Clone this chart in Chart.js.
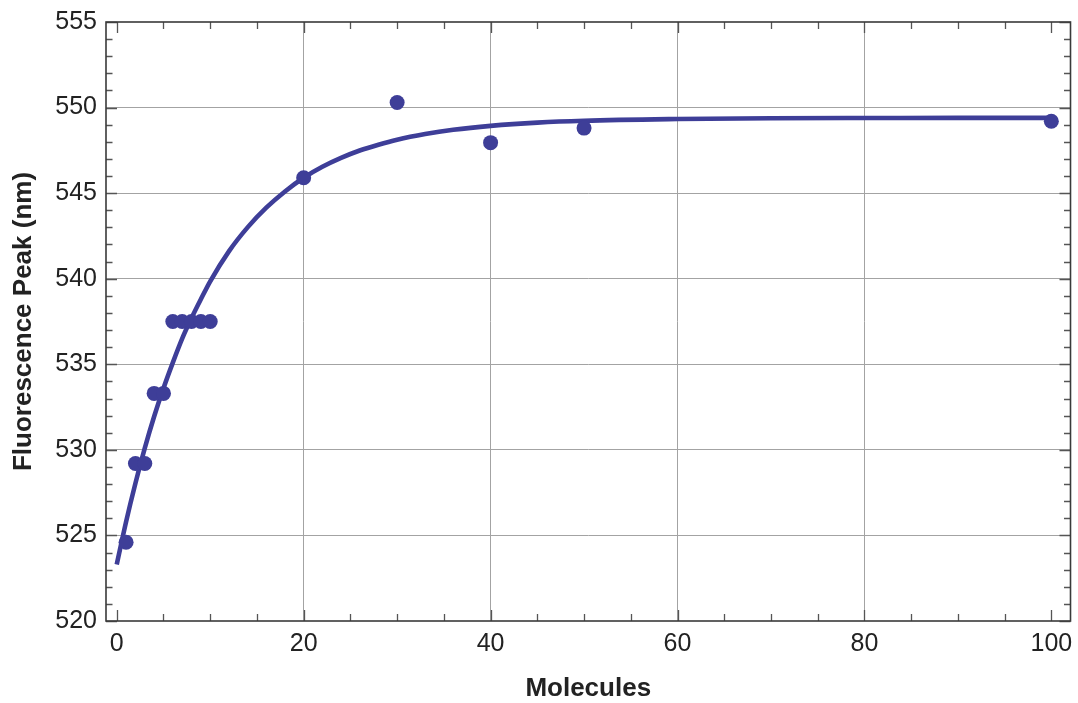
<!DOCTYPE html>
<html>
<head>
<meta charset="utf-8">
<script src="https://cdn.jsdelivr.net/npm/chart.js@4/dist/chart.umd.min.js"></script>
<style>
html,body{margin:0;padding:0;background:#fff;}
#wrap{width:1078px;height:703px;position:relative;}
</style>
</head>
<body>
<div id="wrap"><canvas id="c" width="1078" height="703"></canvas></div>
<script>
// Measured data points
const moleculesX = [1, 2, 3, 4, 5, 6, 7, 8, 9, 10, 20, 30, 40, 50, 100];
const peakY = [524.6, 529.2, 529.2, 533.3, 533.3, 537.5, 537.5, 537.5, 537.5, 537.5, 545.9, 550.3, 547.95, 548.8, 549.2];

// Fitted curve, values
const fitX = [0, 1, 2, 3, 4, 5, 6, 7, 8, 9, 10, 12, 14, 16, 18, 20, 22, 24, 26, 28, 30, 33, 36, 40, 45, 50, 60, 70, 80, 90, 100];
const fitY = [523.3, 525.8, 528.05, 530.1, 531.95, 533.6, 535.1, 536.5, 537.7, 538.8, 539.85, 541.6, 543.0, 544.15, 545.1, 545.9, 546.54, 547.06, 547.49, 547.83, 548.12, 548.45, 548.7, 548.93, 549.12, 549.23, 549.33, 549.38, 549.39, 549.4, 549.4];

// Axis ticks
const xTickValues = [0, 5, 10, 15, 20, 25, 30, 35, 40, 45, 50, 55, 60, 65, 70, 75, 80, 85, 90, 95, 100];
const xMajorLabels = [0, 20, 40, 60, 80, 100];
const yTickValues = [];
for (let v = 520; v <= 555; v++) yTickValues.push(v);
const yMajorLabels = [520, 525, 530, 535, 540, 545, 550, 555];

const mainColor = '#3e3e98';
const gridColor = '#a3a3a3';

const framePlugin = {
  id: 'frame',
  beforeDatasetsDraw(chart) {
    const ctx = chart.ctx;
    const {left, right, top, bottom} = chart.chartArea;
    const xs = chart.scales.x, ys = chart.scales.y;
    ctx.save();
    ctx.strokeStyle = '#555';
    ctx.lineWidth = 1.3;
    ctx.beginPath();
    xs.ticks.forEach(t => {
      const px = Math.round(xs.getPixelForValue(t.value)) + 0.5;
      const len = xMajorLabels.includes(t.value) ? 11 : 7;
      ctx.moveTo(px, bottom); ctx.lineTo(px, bottom - len);
      ctx.moveTo(px, top); ctx.lineTo(px, top + len);
    });
    ys.ticks.forEach(t => {
      const py = Math.round(ys.getPixelForValue(t.value)) + 0.5;
      const len = yMajorLabels.includes(t.value) ? 11 : 6.5;
      ctx.moveTo(left, py); ctx.lineTo(left + len, py);
      ctx.moveTo(right, py); ctx.lineTo(right - len, py);
    });
    ctx.stroke();
    ctx.strokeStyle = '#3a3a3a';
    ctx.lineWidth = 1.6;
    ctx.strokeRect(left, top, right - left, bottom - top);
    ctx.restore();
  }
};

function zeroPad(scale) {
  scale.paddingLeft = 0; scale.paddingRight = 0;
  scale.paddingTop = 0; scale.paddingBottom = 0;
}

Chart.defaults.font.family = "'Liberation Sans', Arial, Helvetica, sans-serif";
Chart.defaults.color = '#222';

new Chart(document.getElementById('c'), {
  type: 'scatter',
  data: {
    datasets: [
      {
        label: 'Fit',
        data: fitX.map((x, i) => ({x: x, y: fitY[i]})),
        showLine: true,
        borderColor: mainColor,
        borderWidth: 4.6,
        pointRadius: 0,
        pointHoverRadius: 0,
        cubicInterpolationMode: 'monotone',
        fill: false,
        order: 2
      },
      {
        label: 'Data',
        data: moleculesX.map((x, i) => ({x: x, y: peakY[i]})),
        showLine: false,
        backgroundColor: mainColor,
        borderColor: mainColor,
        borderWidth: 0,
        pointRadius: 7.5,
        pointHoverRadius: 7.5,
        order: 1
      }
    ]
  },
  options: {
    responsive: false,
    animation: false,
    events: [],
    layout: {padding: {top: 22, right: 6, left: 0, bottom: 0}},
    plugins: {legend: {display: false}, tooltip: {enabled: false}},
    scales: {
      x: {
        type: 'linear',
        min: -1.15,
        max: 102.05,
        afterBuildTicks: (scale) => { scale.ticks = xTickValues.map(v => ({value: v})); },
        afterFit: (scale) => { scale.height = 82; zeroPad(scale); },
        border: {display: false},
        grid: {
          drawTicks: false,
          lineWidth: 1,
          color: (c) => {
            const v = c.tick ? c.tick.value : null;
            return (v !== null && v % 20 === 0 && v > 0 && v < 100) ? gridColor : 'rgba(0,0,0,0)';
          }
        },
        ticks: {
          autoSkip: false,
          maxRotation: 0,
          padding: 8,
          font: {size: 25},
          color: '#222',
          callback: (v) => xMajorLabels.includes(v) ? String(v) : ''
        },
        title: {
          display: true,
          text: 'Molecules',
          font: {size: 26, weight: 'bold', lineHeight: 1},
          color: '#222',
          padding: {top: 0, bottom: 1}
        }
      },
      y: {
        type: 'linear',
        min: 520,
        max: 555,
        afterBuildTicks: (scale) => { scale.ticks = yTickValues.map(v => ({value: v})); },
        afterFit: (scale) => { scale.width = 106; zeroPad(scale); },
        border: {display: false},
        grid: {
          drawTicks: false,
          lineWidth: 1,
          color: (c) => {
            const v = c.tick ? c.tick.value : null;
            return (v !== null && v % 5 === 0 && v > 520 && v < 555) ? gridColor : 'rgba(0,0,0,0)';
          }
        },
        ticks: {
          autoSkip: false,
          padding: 9,
          font: {size: 25},
          color: '#222',
          callback: (v) => yMajorLabels.includes(v) ? String(v) : ''
        },
        title: {
          display: true,
          text: 'Fluorescence Peak (nm)',
          font: {size: 26, weight: 'bold', lineHeight: 1},
          color: '#222',
          padding: {top: 11, bottom: 0}
        }
      }
    }
  },
  plugins: [framePlugin]
});
</script>
</body>
</html>
